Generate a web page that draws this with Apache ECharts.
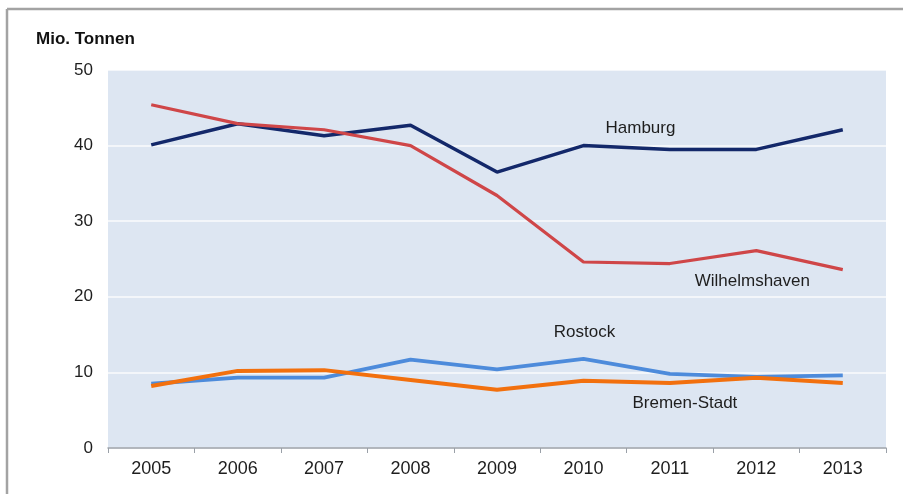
<!DOCTYPE html>
<html>
<head>
<meta charset="utf-8">
<script src="https://cdn.jsdelivr.net/npm/echarts@6/dist/echarts.min.js"></script>
<style>
html,body{margin:0;padding:0;background:#fff;}
#c{width:903px;height:494px;}
</style>
</head>
<body>
<div id="c"></div>
<script>
var years = ['2005','2006','2007','2008','2009','2010','2011','2012','2013'];
var yTicks = [0, 10, 20, 30, 40, 50];
var hamburg = [40.1, 42.9, 41.3, 42.7, 36.5, 40.0, 39.5, 39.5, 42.1];
var wilhelmshaven = [45.4, 42.9, 42.1, 40.0, 33.4, 24.6, 24.4, 26.1, 23.6];
var rostock = [8.5, 9.3, 9.3, 11.7, 10.4, 11.8, 9.8, 9.4, 9.6];
var bremen = [8.2, 10.2, 10.3, 9.0, 7.7, 8.9, 8.6, 9.3, 8.6];
var unitLabel = 'Mio. Tonnen';

var chart = echarts.init(document.getElementById('c'));
var font = 'Arial, "Liberation Sans", sans-serif';

function label(name, cat, val, off) {
  return {
    symbol: 'circle', symbolSize: 0, silent: true,
    data: [{ coord: [cat, val] }],
    label: { show: true, formatter: name, position: 'inside', offset: off,
             color: '#1e1e1e', fontSize: 17, fontFamily: font }
  };
}

function series(name, data, color, width, lab) {
  return {
    name: name, type: 'line', data: data, symbol: 'none',
    lineStyle: { color: color, width: width }, itemStyle: { color: color },
    markPoint: lab, z: 3
  };
}

chart.setOption({
  animation: false,
  grid: { left: 108, right: 17, top: 70, bottom: 46, show: true,
          backgroundColor: '#dde6f2', borderWidth: 0 },
  graphic: [
    { type: 'line', shape: { x1: 7, y1: 9, x2: 903, y2: 9 }, style: { stroke: '#a3a3a3', lineWidth: 2.5 } },
    { type: 'line', shape: { x1: 7, y1: 9, x2: 7, y2: 494 }, style: { stroke: '#a3a3a3', lineWidth: 2.5 } },
    { type: 'text', left: 36, top: 31, style: { text: unitLabel, fontSize: 17, fontWeight: 'bold',
      fontFamily: font, fill: '#111' } }
  ],
  xAxis: {
    type: 'category', data: years, boundaryGap: true,
    axisLine: { lineStyle: { color: '#9aa0a8', width: 1.5 } },
    axisTick: { show: true, length: 5, lineStyle: { color: '#9aa0a8' } },
    axisLabel: { color: '#1e1e1e', fontSize: 18, fontFamily: font, margin: 12 }
  },
  yAxis: {
    type: 'value', min: yTicks[0], max: yTicks[yTicks.length - 1], interval: 10,
    axisLine: { show: false }, axisTick: { show: false },
    axisLabel: { color: '#1e1e1e', fontSize: 17, fontFamily: font, margin: 15 },
    splitLine: { lineStyle: { color: 'rgba(255,255,255,0.85)', width: 1.5 } }
  },
  series: [
    series('Hamburg', hamburg, '#13286a', 3.5, label('Hamburg', '2010', 42.3, [57, 0])),
    series('Wilhelmshaven', wilhelmshaven, '#cf4648', 3.2, label('Wilhelmshaven', '2012', 22.1, [-4, 0])),
    series('Rostock', rostock, '#4d8bdb', 3.8, label('Rostock', '2010', 15.3, [1, 0])),
    series('Bremen-Stadt', bremen, '#f2700e', 4, label('Bremen-Stadt', '2011', 5.9, [15, 0]))
  ]
});
</script>
</body>
</html>
